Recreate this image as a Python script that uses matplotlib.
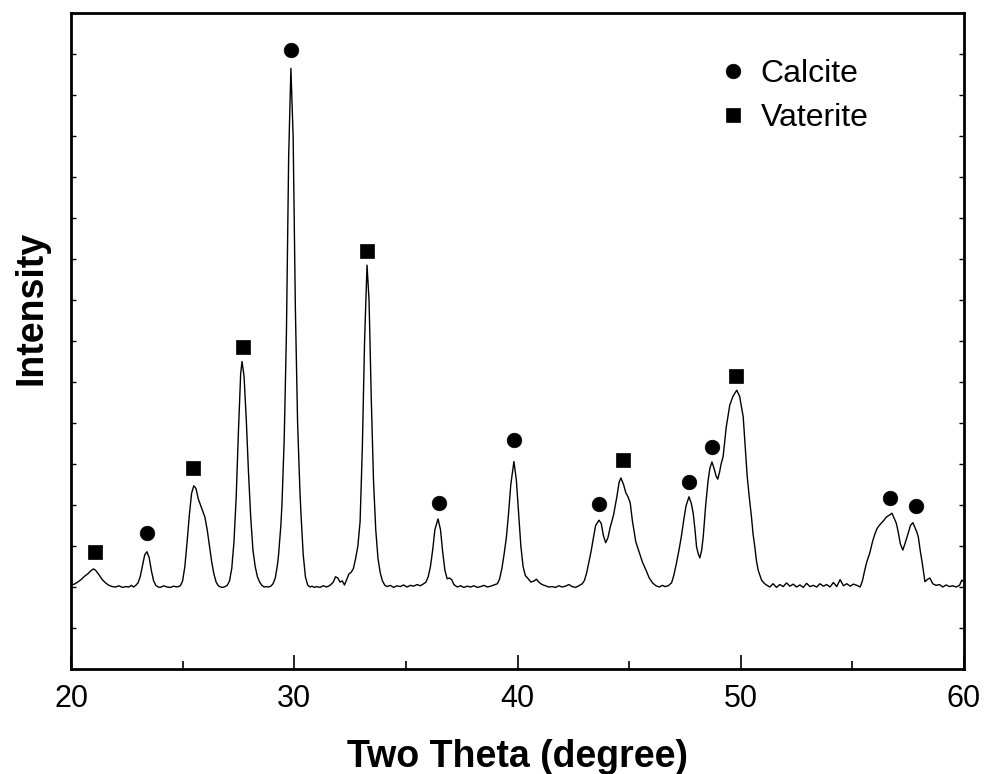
import matplotlib
matplotlib.use("Agg")
import matplotlib.pyplot as plt
from matplotlib.ticker import MultipleLocator, NullFormatter

plt.rcParams['font.family'] = ['Liberation Sans', 'DejaVu Sans']

# XRD trace (intensity in arbitrary units)
two_theta = [
    20.0, 20.15, 20.3, 20.45, 20.6, 20.75, 20.9, 21.0, 21.1, 21.25, 21.4, 21.55, 21.7, 21.85,
    22.0, 22.15, 22.3, 22.45, 22.6, 22.7, 22.8,
    22.9, 23.0, 23.1, 23.2, 23.3, 23.4, 23.5, 23.6, 23.7, 23.8, 23.9, 24.0, 24.15, 24.3,
    24.45, 24.6, 24.75,
    24.9, 25.0, 25.1, 25.2, 25.3, 25.4, 25.5, 25.6, 25.7, 25.8, 25.9, 26.0, 26.1, 26.2,
    26.3, 26.4, 26.5, 26.6, 26.7, 26.8,
    26.9, 27.0, 27.1, 27.2, 27.3, 27.4, 27.5, 27.6, 27.66, 27.75, 27.85, 27.95, 28.05,
    28.15, 28.25, 28.35, 28.45, 28.55, 28.65, 28.75, 28.85,
    28.95, 29.05, 29.15, 29.25, 29.3, 29.4, 29.45, 29.55, 29.65, 29.75, 29.85, 29.95,
    30.05, 30.15, 30.25, 30.3, 30.4, 30.5, 30.6, 30.7, 30.8, 30.9,
    31.0, 31.15, 31.3, 31.45, 31.6, 31.75, 31.85, 31.95, 32.05, 32.15, 32.25, 32.35,
    32.45, 32.55, 32.65, 32.75, 32.85, 32.95, 33.05, 33.15, 33.26, 33.35, 33.45, 33.55,
    33.65, 33.75, 33.85, 33.95, 34.05, 34.15,
    34.3, 34.45, 34.6, 34.75, 34.9, 35.05, 35.2, 35.35, 35.5, 35.65, 35.8, 35.9, 36.0,
    36.1, 36.2, 36.3, 36.44, 36.55, 36.65, 36.75, 36.85, 36.95, 37.05, 37.15, 37.3,
    37.45, 37.6, 37.75, 37.9, 38.05, 38.2, 38.35, 38.5, 38.65,
    38.8, 38.95, 39.1, 39.2, 39.3, 39.4, 39.5, 39.6, 39.7, 39.84, 39.95, 40.05, 40.15,
    40.25, 40.35, 40.45, 40.6, 40.75, 40.85, 40.95, 41.1, 41.25, 41.4, 41.55, 41.7,
    41.85, 42.0, 42.15, 42.3, 42.45, 42.6,
    42.75, 42.9, 43.0, 43.1, 43.2, 43.3, 43.4, 43.5, 43.65, 43.75, 43.85, 43.95, 44.05,
    44.15, 44.3, 44.45, 44.55, 44.63, 44.75, 44.85, 44.95, 45.05, 45.15, 45.3, 45.45,
    45.6, 45.75, 45.9, 46.05, 46.2, 46.35, 46.5, 46.6,
    46.75, 46.9, 47.0, 47.12, 47.25, 47.35, 47.45, 47.55, 47.68, 47.78, 47.87, 47.95,
    48.02, 48.1, 48.17, 48.25, 48.32, 48.43, 48.54, 48.62, 48.71, 48.8, 48.9, 48.97,
    49.05, 49.12, 49.21, 49.35, 49.51, 49.65, 49.82, 49.95, 50.11, 50.2, 50.29, 50.38,
    50.48, 50.55, 50.63, 50.7, 50.78, 50.93, 51.05, 51.15,
    51.3, 51.45, 51.6, 51.75, 51.9, 52.05, 52.2, 52.35, 52.5, 52.65, 52.8, 52.95, 53.1,
    53.25, 53.4, 53.55, 53.7, 53.85, 54.0, 54.15, 54.3, 54.45, 54.6, 54.75, 54.9, 55.05,
    55.2, 55.35,
    55.45, 55.55, 55.65, 55.78, 55.9, 56.0, 56.1, 56.2, 56.3, 56.4, 56.53, 56.65, 56.77,
    56.87, 56.97, 57.05, 57.15, 57.26, 57.38, 57.5, 57.6, 57.71, 57.8, 57.88, 57.95,
    58.05, 58.12, 58.25, 58.35, 58.47, 58.6, 58.75, 58.9, 59.05, 59.2, 59.35, 59.5,
    59.65, 59.8, 59.9, 60.0,
]
intensity = [
    205, 207, 212, 218, 226, 232, 240, 244, 241, 230, 218, 210, 204, 201,
    200, 203, 199, 201, 200, 204, 200,
    204, 210, 225, 252, 278, 286, 272, 240, 215, 204, 200, 199, 203, 200,
    199, 202, 200,
    203, 215, 250, 310, 375, 428, 447, 440, 415, 400, 385, 370, 340, 300,
    262, 232, 212, 203, 200, 199,
    201, 204, 215, 245, 310, 420, 580, 720, 750, 715, 610, 480, 370,
    290, 250, 225, 212, 204, 200, 201, 200,
    202, 208, 222, 255, 280, 350, 402, 560, 820, 1250, 1465, 1300,
    880, 600, 440, 380, 280, 225, 205, 200, 202, 199,
    201, 199, 203, 200, 204, 212, 225, 222, 212, 215, 205, 218,
    232, 236, 245, 270, 300, 360, 540, 800, 985, 900, 660, 460,
    340, 270, 235, 215, 205, 201,
    204, 199, 203, 201, 205, 200, 204, 202, 206, 203, 208, 212, 225,
    250, 290, 340, 366, 340, 285, 240, 220, 222, 218, 206, 200,
    203, 199, 202, 200, 203, 199, 201, 204, 200,
    202, 205, 208, 220, 245, 280, 320, 380, 450, 506, 460, 380, 300,
    250, 228, 222, 212, 215, 219, 212, 206, 203, 200, 201, 199,
    203, 200, 202, 206, 201, 199,
    203, 208, 216, 235, 262, 288, 320, 350, 363, 355, 325, 308, 320,
    345, 375, 420, 455, 466, 450, 430, 420, 405, 360, 310, 285,
    260, 242, 222, 210, 203, 200, 204, 201,
    203, 210, 228, 258, 295, 327, 365, 398, 420, 405, 380, 340,
    298, 280, 271, 290, 323, 400, 461, 490, 505, 490, 470, 463,
    480, 500, 518, 590, 644, 665, 680, 665, 615, 540, 469, 420,
    371, 330, 298, 265, 241, 217, 209, 205,
    200, 208, 199, 206, 201, 210, 202, 207, 200, 205, 199, 209, 201,
    204, 200, 208, 202, 206, 200, 211, 201, 218, 203, 208, 202, 207,
    204, 200,
    215, 240, 262, 283, 310, 328, 342, 350, 356, 362, 371, 375, 380,
    368, 355, 335, 305, 290, 310, 331, 350, 357, 345, 335, 323,
    285, 262, 213, 218, 222, 208, 204, 206, 200, 205, 201, 203,
    200, 204, 217, 212,
]

# peak markers
calcite_x = [23.39, 29.85, 36.50, 39.84, 43.65, 47.69, 48.69, 56.68, 57.84]
calcite_y = [332, 1510, 406, 559, 402, 455, 542, 418, 398]
vaterite_x = [21.07, 25.46, 27.70, 33.26, 44.72, 49.78]
vaterite_y = [286, 491, 785, 1020, 510, 715]

fig = plt.figure(figsize=(9.84, 7.74), dpi=100)
ax = fig.add_axes([71 / 984, 1 - 669 / 774, 893 / 984, 656 / 774])

ax.plot(two_theta, intensity, color='black', linewidth=1.0)
ax.plot(calcite_x, calcite_y, 'o', color='black', markersize=10.5, markeredgewidth=0.5,
        label='Calcite')
ax.plot(vaterite_x, vaterite_y, 's', color='black', markersize=10.5, markeredgewidth=0.5,
        label='Vaterite')

ax.set_xlim(20, 60)
ax.set_ylim(0, 1600)

ax.xaxis.set_major_locator(MultipleLocator(10))
ax.xaxis.set_minor_locator(MultipleLocator(5))
ax.yaxis.set_major_locator(MultipleLocator(100))
ax.yaxis.set_major_formatter(NullFormatter())

ax.tick_params(axis='x', which='major', direction='in', length=10, width=1.2,
               labelsize=22, pad=11)
ax.tick_params(axis='x', which='minor', direction='in', length=5.8, width=1.2)
ax.tick_params(axis='y', which='major', direction='in', length=3.5, width=1.0,
               left=True, right=True)
for side in ['left', 'right', 'top', 'bottom']:
    ax.spines[side].set_linewidth(2.0)

ax.set_xlabel('Two Theta (degree)', fontsize=27, fontweight='bold')
ax.xaxis.label.set_va('baseline')
ax.xaxis.set_label_coords(0.5, -0.149)
ax.set_ylabel('Intensity', fontsize=27, fontweight='bold')
ax.yaxis.label.set_va('baseline')
ax.yaxis.set_label_coords(-0.0325, 0.551)

ax.legend(loc='upper left', bbox_to_anchor=(720 / 984, 1 - 59 / 774),
          bbox_transform=fig.transFigure, frameon=False, fontsize=23,
          handlelength=0.8, handletextpad=0.475, labelspacing=0.44,
          borderpad=0, borderaxespad=0, markerscale=1.0)

plt.savefig('out.png', dpi=100)
